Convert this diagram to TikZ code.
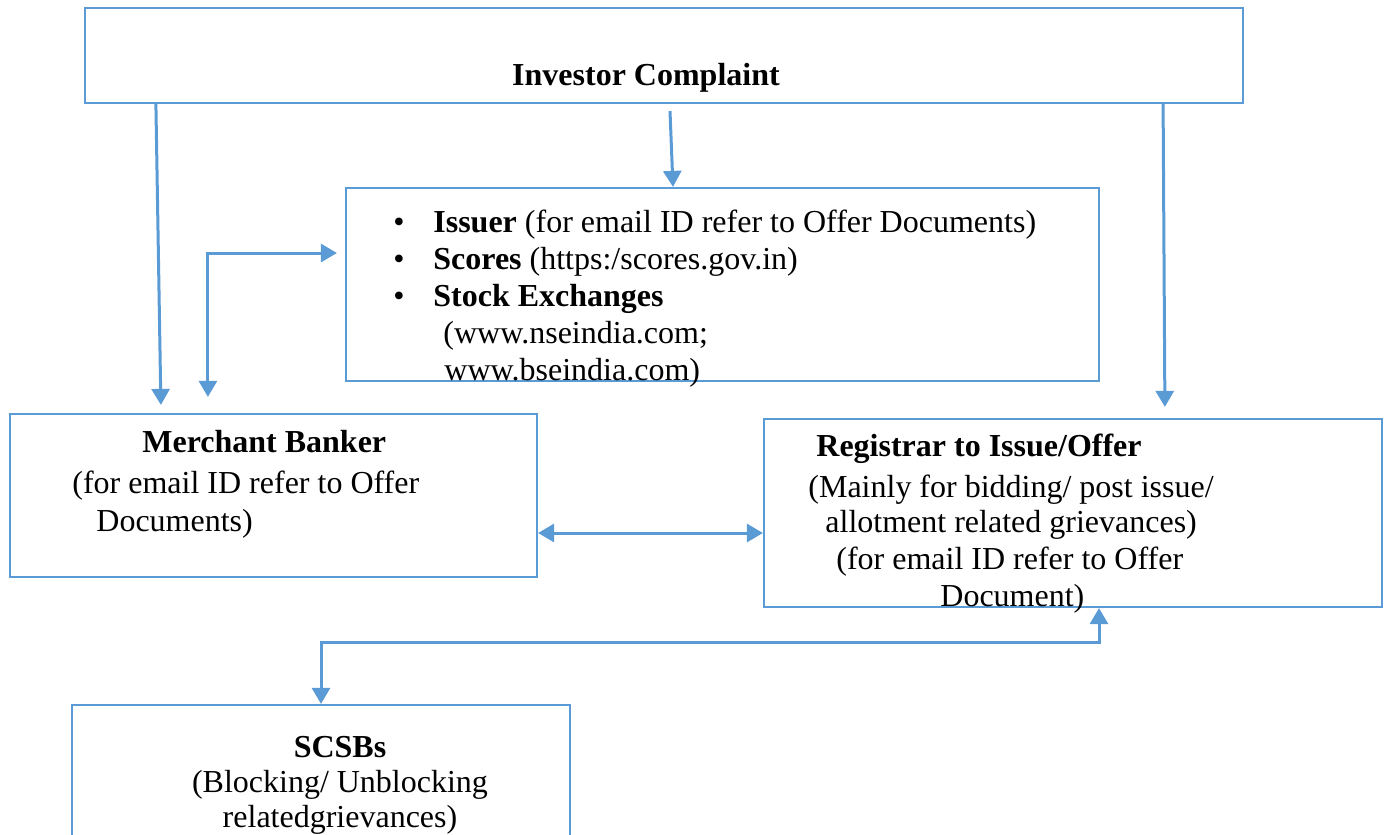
\documentclass[tikz,border=0pt]{standalone}
\usepackage{fontspec}
\setmainfont{Liberation Serif}
\usetikzlibrary{arrows.meta}
\definecolor{flowblue}{HTML}{5B9BD5}

\begin{document}
\begin{tikzpicture}[x=0.5pt,y=-0.5pt,
  font=\fontsize{16}{18.5}\selectfont,
  box/.style={draw=flowblue,line width=1.1pt,inner sep=0pt},
  txt/.style={inner sep=0pt,align=left,anchor=north west},
  link/.style={draw=flowblue,line width=1.5pt,-{Triangle[length=8pt,width=9pt]}},
  twolink/.style={link,{Triangle[length=8pt,width=9pt]}-{Triangle[length=8pt,width=9pt]}}]
\useasboundingbox (0,0) rectangle (1388,835);
\clip (0,0) rectangle (1388,835);
\node[box,minimum width=579pt,minimum height=47.5pt] at (664,55.5) (inv) {};
\node[box,minimum width=376.5pt,minimum height=96.5pt] at (722.5,284.5) (issuer) {};
\node[box,minimum width=263.5pt,minimum height=81.5pt] at (273.5,495.5) (merch) {};
\node[box,minimum width=309pt,minimum height=94pt] at (1073,513) (reg) {};
\node[box,minimum width=249pt,minimum height=75pt] at (321,780) (scsb) {};
\node[inner sep=0pt,anchor=base] at (646,85) (invtext) {\textbf{Investor Complaint}};
\node[txt] at (393,206) (issuertext) {\strut\makebox[20pt][l]{\textbullet}\textbf{Issuer} (for email ID refer to Offer Documents)\\
\makebox[20pt][l]{\textbullet}\textbf{Scores} (https:/scores.gov.in)\\
\makebox[20pt][l]{\textbullet}\textbf{Stock Exchanges}\\
\hspace*{25pt}(www.nseindia.com;\\
\hspace*{25.5pt}www.bseindia.com)};
\node[txt] at (72,426) (merchtext) {\strut\hspace*{35pt}\textbf{Merchant Banker}\\[2pt]
(for email ID refer to Offer\\[0.5pt]
\hspace*{12pt}Documents)};
\node[txt] at (808,430) (regtext) {\strut\hspace*{4pt}\textbf{Registrar to Issue/Offer}\\[2pt]
(Mainly for bidding/ post issue/\\[-1pt]
\hspace*{8.5pt}allotment related grievances)\\
\hspace*{14pt}(for email ID refer to Offer\\
\hspace*{66pt}Document)};
\node[txt,align=center,anchor=north] at (340,731) (scsbtext) {\strut\textbf{SCSBs}\\[-1pt]
(Blocking/ Unblocking\\[-1pt]
relatedgrievances)};
\draw[link] ([xshift=36pt]inv.south west) -- ([xshift=76pt,yshift=4pt]merch.north west);
\draw[link] ([xshift=3pt,yshift=-3.5pt]inv.south) -- ([xshift=-24.75pt]issuer.north);
\draw[link] ([xshift=-40.5pt]inv.south east) -- ([xshift=201pt,yshift=5.5pt]reg.north west);
\draw[twolink] ([xshift=99.5pt,yshift=8pt]merch.north west) |- ([xshift=-4pt,yshift=15.75pt]issuer.west);
\draw[twolink] ([yshift=-18.75pt]merch.east) -- ([yshift=-10pt]reg.west);
\draw[twolink] ([xshift=13pt]reg.south) -- ++(0,34) -| (scsb.north);
\end{tikzpicture}
\end{document}
